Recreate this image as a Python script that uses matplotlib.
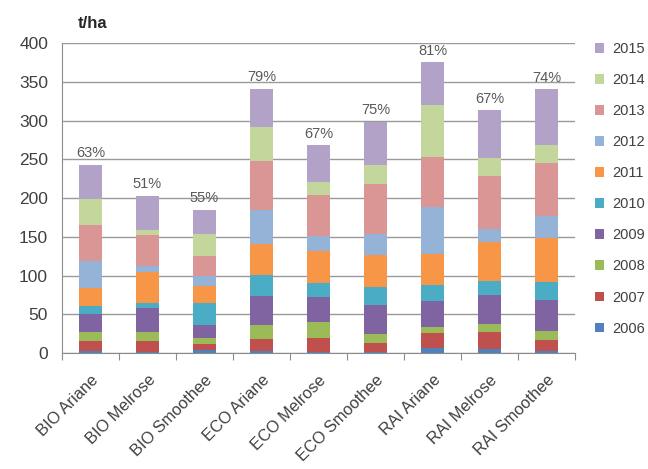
import matplotlib
matplotlib.use("Agg")
import matplotlib.pyplot as plt
import numpy as np

# categories and yearly yields (t/ha)
varieties = ["BIO Ariane", "BIO Melrose", "BIO Smoothee",
             "ECO Ariane", "ECO Melrose", "ECO Smoothee",
             "RAI Ariane", "RAI Melrose", "RAI Smoothee"]
years = ["2006", "2007", "2008", "2009", "2010",
         "2011", "2012", "2013", "2014", "2015"]

y2006 = [2, 1, 4, 2, 1, 1, 6, 5, 2]
y2007 = [13, 15, 7, 16, 18, 12, 20, 22, 15]
y2008 = [12, 11, 8, 18, 21, 12, 7, 11, 11]
y2009 = [23, 31, 17, 37, 32, 37, 34, 37, 40]
y2010 = [11, 6, 28, 28, 18, 23, 21, 18, 24]
y2011 = [23, 40, 23, 39, 41, 41, 40, 50, 57]
y2012 = [35, 8, 13, 45, 20, 27, 61, 17, 28]
y2013 = [46, 40, 25, 63, 53, 65, 64, 68, 68]
y2014 = [34, 7, 29, 44, 17, 24, 67, 24, 23]
y2015 = [44, 44, 31, 49, 47, 56, 55, 61, 72]

pct_labels = ["63%", "51%", "55%", "79%", "67%", "75%", "81%", "67%", "74%"]

series = [y2006, y2007, y2008, y2009, y2010, y2011, y2012, y2013, y2014, y2015]
colors = ["#4F81BD", "#C0504D", "#9BBB59", "#8064A2", "#4BACC6",
          "#F79646", "#95B3D7", "#D99694", "#C3D69B", "#B3A2C7"]

plt.rcParams["font.family"] = ["Liberation Sans", "DejaVu Sans"]
text_col = "#404040"

fig = plt.figure(figsize=(6.48, 4.69), dpi=100)
ax = fig.add_axes([62 / 648, 1 - 353 / 469, 513 / 648, 310 / 469])

x = np.arange(len(varieties))
bottom = np.zeros(len(varieties))
for vals, col, yr in zip(series, colors, years):
    ax.bar(x, vals, width=0.4, bottom=bottom, color=col, label=yr, zorder=3)
    bottom += np.array(vals)

# percentage labels above each stack
for xi, top, lab in zip(x, bottom, pct_labels):
    ax.text(xi, top + 6, lab, ha="center", va="bottom", fontsize=10.5, color="#595959")

ax.set_xlim(-0.5, len(varieties) - 0.5)
ax.set_ylim(0, 400)
ax.set_yticks(range(0, 401, 50))
ax.yaxis.grid(True, color="#9a9a9a", linewidth=1, zorder=0)
ax.tick_params(axis="y", length=0, labelsize=12.5, labelcolor=text_col, pad=10)

# tick marks between categories, labels at centres
ax.set_xticks(np.arange(-0.5, len(varieties), 1.0))
ax.set_xticklabels([])
ax.set_xticks(x, minor=True)
ax.set_xticklabels(varieties, minor=True, rotation=45, ha="right",
                   rotation_mode="anchor", fontsize=11.8, color=text_col)
ax.tick_params(axis="x", which="major", length=5, color="#8c8c8c")
ax.tick_params(axis="x", which="minor", length=0, pad=14)

for s in ["top", "right"]:
    ax.spines[s].set_visible(False)
for s in ["left", "bottom"]:
    ax.spines[s].set_color("#8c8c8c")

fig.text(78 / 648, 1 - 24 / 469, "t/ha", fontsize=12, fontweight="bold",
         color="#262626", va="center")

handles, labels = ax.get_legend_handles_labels()
leg = fig.legend(handles[::-1], labels[::-1], loc="upper left",
                 bbox_to_anchor=(595 / 648, 1 - 42 / 469), frameon=False,
                 borderpad=0, borderaxespad=0,
                 fontsize=10.5, handlelength=0.65, handleheight=0.65,
                 handletextpad=0.5, labelspacing=1.17, labelcolor=text_col)

fig.savefig("out.png", dpi=100)
